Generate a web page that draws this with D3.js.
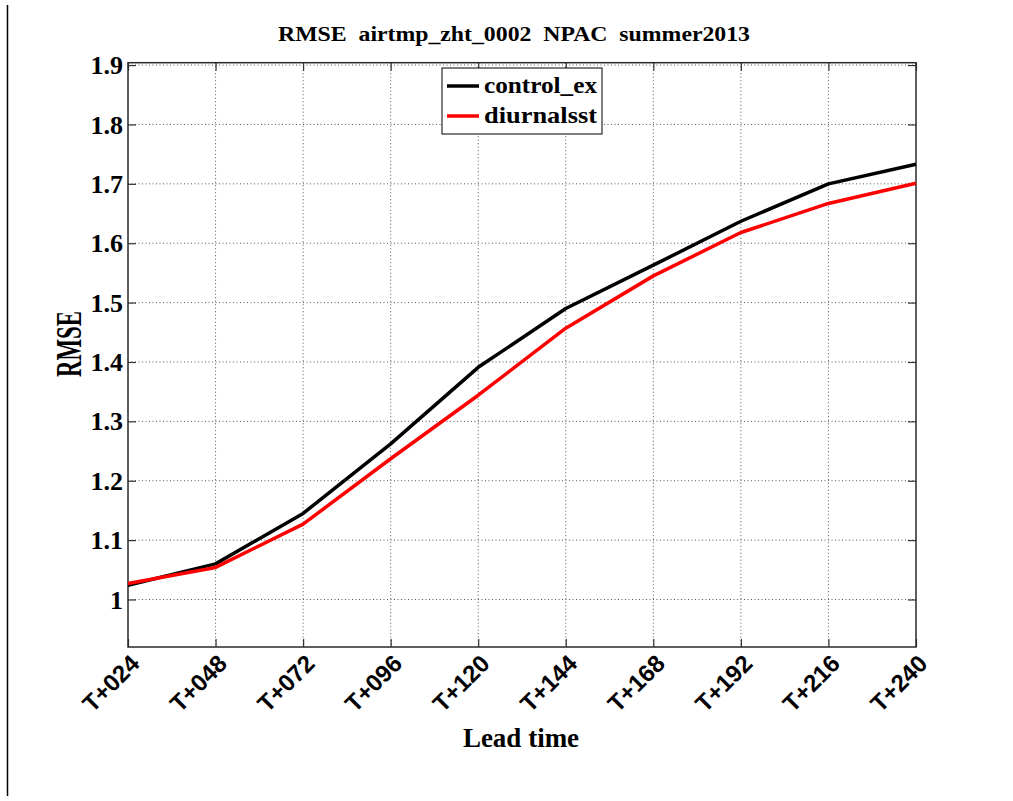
<!DOCTYPE html>
<html>
<head>
<meta charset="utf-8">
<script src="https://cdn.jsdelivr.net/npm/d3@7"></script>
<style>
  body { margin: 0; background: #fff; }
  text { white-space: pre; }
</style>
</head>
<body>
<svg id="grafico" width="1013" height="801"></svg>
<script>
// dados
var leadTimes = [24, 48, 72, 96, 120, 144, 168, 192, 216, 240];
var tickLabels = ["T+024", "T+048", "T+072", "T+096", "T+120", "T+144", "T+168", "T+192", "T+216", "T+240"];
var controlEx = [1.024, 1.060, 1.145, 1.262, 1.391, 1.490, 1.563, 1.637, 1.700, 1.733];
var diurnalSst = [1.027, 1.054, 1.127, 1.237, 1.344, 1.457, 1.545, 1.618, 1.667, 1.701];
var yTicks = [1, 1.1, 1.2, 1.3, 1.4, 1.5, 1.6, 1.7, 1.8, 1.9];
var seriesNames = ["control_ex", "diurnalsst"];
var seriesColors = ["#000000", "#ff0000"];

var svg = d3.select("#grafico");

// limites da area do grafico (nao usar "top": e reservado no window)
var pLeft = 128, pRight = 916, pTop = 62.7, pBottom = 647;

var x = d3.scaleLinear().domain([24, 240]).range([pLeft, pRight]);
var y = d3.scaleLinear().domain([0.92, 1.904]).range([pBottom, pTop]);

var serif = "'Liberation Serif', 'Times New Roman', serif";
var sans = "'Liberation Sans', Arial, sans-serif";

// linha vertical na esquerda da figura
svg.append("line")
  .attr("x1", 7.5).attr("x2", 7.5).attr("y1", 5).attr("y2", 796)
  .attr("stroke", "#000").attr("stroke-width", 1.5);

// grade pontilhada
var grade = svg.append("g").attr("class", "grade");
grade.selectAll("line.h")
  .data(yTicks)
  .enter().append("line")
  .attr("x1", pLeft).attr("x2", pRight)
  .attr("y1", d => y(d)).attr("y2", d => y(d))
  .attr("stroke", "#555").attr("stroke-width", 1).attr("stroke-dasharray", "1,2.5");
grade.selectAll("line.v")
  .data(leadTimes.slice(1, -1))
  .enter().append("line")
  .attr("x1", d => x(d)).attr("x2", d => x(d))
  .attr("y1", pTop).attr("y2", pBottom)
  .attr("stroke", "#555").attr("stroke-width", 1).attr("stroke-dasharray", "1,2.5");

// eixos (ticks para dentro, em todos os lados)
var eixoEsq = d3.axisLeft(y).tickValues(yTicks).tickSize(-8).tickFormat(d3.format("~g")).tickPadding(5);
var eixoDir = d3.axisRight(y).tickValues(yTicks).tickSize(-8).tickFormat("");
var eixoBaixo = d3.axisBottom(x).tickValues(leadTimes).tickSize(-8).tickFormat("");
var eixoCima = d3.axisTop(x).tickValues(leadTimes).tickSize(-8).tickFormat("");

function estilo(g) {
  g.select(".domain").remove();
  g.selectAll(".tick line").attr("stroke", "#333").attr("stroke-width", 1.2);
}

svg.append("g").attr("transform", "translate(" + pLeft + ",0)").call(eixoEsq).call(estilo)
  .selectAll("text")
  .attr("font-family", serif).attr("font-weight", "bold").attr("font-size", 26)
  .attr("fill", "#000").attr("dy", "0.33em");
svg.append("g").attr("transform", "translate(" + pRight + ",0)").call(eixoDir).call(estilo);
svg.append("g").attr("transform", "translate(0," + pBottom + ")").call(eixoBaixo).call(estilo);
svg.append("g").attr("transform", "translate(0," + pTop + ")").call(eixoCima).call(estilo);

// rotulos do eixo x, girados
svg.append("g").selectAll("text")
  .data(leadTimes)
  .enter().append("text")
  .attr("transform", d => "translate(" + (x(d) + 13) + "," + (pBottom + 18) + ") rotate(-45)")
  .attr("text-anchor", "end")
  .attr("font-family", sans).attr("font-weight", "bold").attr("font-size", 24)
  .text((d, i) => tickLabels[i]);

// caixa do grafico
svg.append("rect")
  .attr("x", pLeft).attr("y", pTop).attr("width", pRight - pLeft).attr("height", pBottom - pTop)
  .attr("fill", "none").attr("stroke", "#2a2a2a").attr("stroke-width", 1.5);

// as linhas
var linha = d3.line().x((d, i) => x(leadTimes[i])).y(d => y(d));
[controlEx, diurnalSst].forEach(function (serie, k) {
  svg.append("path")
    .datum(serie)
    .attr("d", linha)
    .attr("fill", "none")
    .attr("stroke", seriesColors[k])
    .attr("stroke-width", 3.5)
    .attr("stroke-linejoin", "round");
});

// titulo e rotulos dos eixos
svg.append("text")
  .attr("x", 514).attr("y", 41)
  .attr("text-anchor", "middle")
  .attr("font-family", serif).attr("font-weight", "bold").attr("font-size", 22)
  .attr("textLength", 472).attr("lengthAdjust", "spacingAndGlyphs")
  .text("RMSE  airtmp_zht_0002  NPAC  summer2013");

svg.append("text")
  .attr("x", 521).attr("y", 747)
  .attr("text-anchor", "middle")
  .attr("font-family", serif).attr("font-weight", "bold").attr("font-size", 27)
  .text("Lead time");

svg.append("text")
  .attr("transform", "translate(81,344) rotate(-90)")
  .attr("text-anchor", "middle")
  .attr("font-family", serif).attr("font-weight", "bold").attr("font-size", 35)
  .attr("textLength", 66).attr("lengthAdjust", "spacingAndGlyphs")
  .text("RMSE");

// legenda
var legenda = svg.append("g").attr("class", "legenda");
legenda.append("rect")
  .attr("x", 442).attr("y", 68).attr("width", 160).attr("height", 66)
  .attr("fill", "#fff").attr("stroke", "#000").attr("stroke-width", 1);
seriesNames.forEach(function (nome, k) {
  var ly = 86 + k * 30;
  legenda.append("line")
    .attr("x1", 447).attr("x2", 479).attr("y1", ly).attr("y2", ly)
    .attr("stroke", seriesColors[k]).attr("stroke-width", 3.5);
  legenda.append("text")
    .attr("x", 484).attr("y", ly + 7)
    .attr("font-family", serif).attr("font-weight", "bold").attr("font-size", 23)
    .attr("textLength", 113).attr("lengthAdjust", "spacingAndGlyphs")
    .text(nome);
});
</script>
</body>
</html>
